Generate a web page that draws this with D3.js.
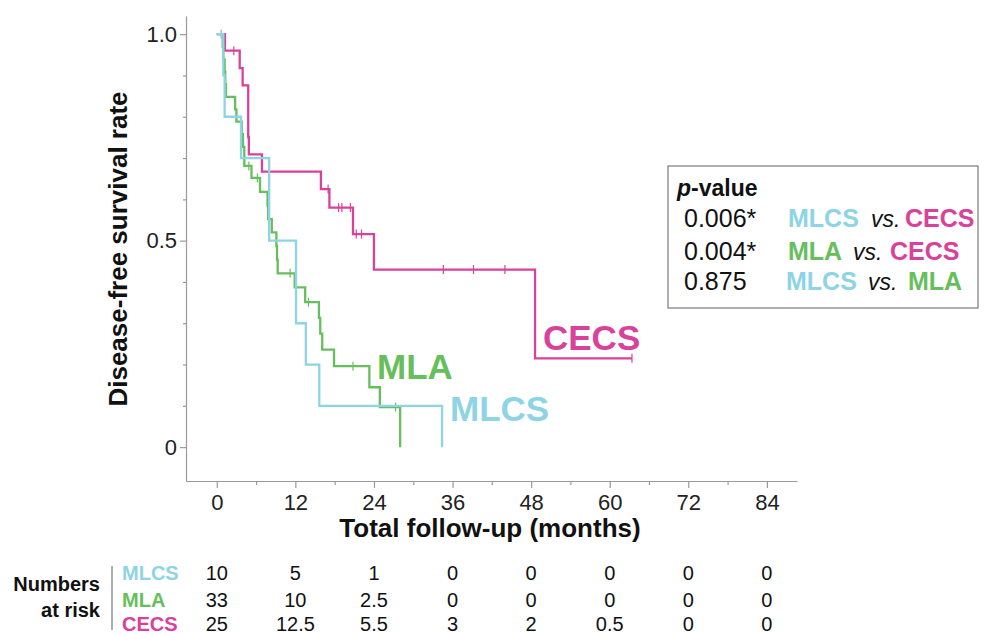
<!DOCTYPE html>
<html>
<head>
<meta charset="utf-8">
<script src="https://cdn.jsdelivr.net/npm/d3@7"></script>
<style>
  body { margin: 0; background: #fff; }
  svg { font-family: Arial, "Liberation Sans", Helvetica, sans-serif; }
  .axis path, .axis line { stroke: #9a9a9a; stroke-width: 1.2; }
</style>
</head>
<body>
<svg id="chart" width="984" height="634"></svg>
<script>
// ---- data ----
var groups = ["MLCS", "MLA", "CECS"];
var colors = { MLCS: "#8dd4e4", MLA: "#66bf5c", CECS: "#d8429a" };

// [month, survival after the drop]
var mlcsSteps = [[0, 1], [1.0, 0.9], [1.2, 0.8], [3.7, 0.7], [8.0, 0.5], [12.1, 0.3], [13.6, 0.2], [15.65, 0.1], [34.4, 0]];
var mlcsCensor = [[0.7, 1]];

var mlaSteps = [[0, 1], [0.9, 0.97], [1.0, 0.939], [1.2, 0.909], [1.3, 0.879], [1.4, 0.848], [2.8, 0.818], [3.0, 0.788],
  [3.8, 0.758], [4.0, 0.727], [4.2, 0.681], [5.3, 0.652], [6.6, 0.618], [7.75, 0.585], [7.85, 0.552], [8.4, 0.52],
  [9.1, 0.487], [9.2, 0.454], [9.3, 0.421], [11.9, 0.387], [13.5, 0.351], [15.6, 0.313], [15.8, 0.275], [16.1, 0.236],
  [17.9, 0.196], [23.3, 0.145], [24.9, 0.097], [28.0, 0]];
var mlaCensor = [[4.9, 0.681], [6.2, 0.652], [11.2, 0.421], [14.0, 0.351], [20.8, 0.196], [27.3, 0.097]];

var cecsSteps = [[0, 1], [1.25, 0.96], [3.5, 0.918], [3.95, 0.876], [4.8, 0.751], [4.9, 0.709], [6.9, 0.667], [15.9, 0.625],
  [17.2, 0.58], [20.8, 0.516], [24.0, 0.43], [48.6, 0.215], [63.4, 0.215]];
var cecsCensor = [[0.7, 1], [2.6, 0.96], [17.0, 0.625], [18.6, 0.58], [19.1, 0.58], [20.4, 0.58], [21.3, 0.516], [22.1, 0.516],
  [34.6, 0.43], [39.2, 0.43], [44.0, 0.43], [63.4, 0.215]];

var xTicks = [0, 12, 24, 36, 48, 60, 72, 84];
var xMinorTicks = [6, 18, 30, 42, 54, 66, 78];
var yTicks = [0, 0.5, 1];
var yMinorTicks = [0.1, 0.2, 0.3, 0.4, 0.6, 0.7, 0.8, 0.9];

var riskMLCS = ["10", "5", "1", "0", "0", "0", "0", "0"];
var riskMLA = ["33", "10", "2.5", "0", "0", "0", "0", "0"];
var riskCECS = ["25", "12.5", "5.5", "3", "2", "0.5", "0", "0"];

var pValues = ["0.006*", "0.004*", "0.875"];
var pairs = [["MLCS", "CECS"], ["MLA", "CECS"], ["MLCS", "MLA"]];

// ---- chart ----
var tickFont = "'Liberation Sans Narrow', 'Arial Narrow', Arial, 'Liberation Sans', sans-serif";
var svg = d3.select("#chart");

var x = d3.scaleLinear().domain([-4.7, 88.6]).range([186, 797]);
var y = d3.scaleLinear().domain([-0.082, 1.044]).range([481, 16]);

// axes
var xAxis = d3.axisBottom(x).tickValues(xTicks).tickSize(7).tickSizeOuter(0).tickPadding(6);
svg.append("g").attr("class", "x axis").attr("transform", "translate(0,481)").call(xAxis);
svg.append("g").attr("class", "x axis minor").attr("transform", "translate(0,481)")
  .call(d3.axisBottom(x).tickValues(xMinorTicks).tickSize(4).tickFormat(""))
  .select(".domain").remove();

var yAxis = d3.axisLeft(y).tickValues(yTicks).tickSize(6).tickSizeOuter(0).tickPadding(3)
  .tickFormat(function (d) { return d === 0 ? "0" : d3.format(".1f")(d); });
svg.append("g").attr("class", "y axis").attr("transform", "translate(186,0)").call(yAxis);
svg.append("g").attr("class", "y axis minor").attr("transform", "translate(186,0)")
  .call(d3.axisLeft(y).tickValues(yMinorTicks).tickSize(3).tickFormat(""))
  .select(".domain").remove();

svg.selectAll(".axis").attr("font-family", tickFont).attr("font-size", 22);
svg.selectAll(".axis text").attr("fill", "#222");

// axis titles
svg.append("text").attr("transform", "translate(127,249) rotate(-90)")
  .attr("text-anchor", "middle").attr("font-size", "26px").attr("font-weight", "bold").attr("fill", "#111")
  .text("Disease-free survival rate");
svg.append("text").attr("x", 490).attr("y", 537)
  .attr("text-anchor", "middle").attr("font-size", "26px").attr("font-weight", "bold").attr("fill", "#111")
  .text("Total follow-up (months)");

// curves
var line = d3.line().x(function (d) { return x(d[0]); }).y(function (d) { return y(d[1]); }).curve(d3.curveStepAfter);

var series = [
  { name: "CECS", steps: cecsSteps, censor: cecsCensor },
  { name: "MLA", steps: mlaSteps, censor: mlaCensor },
  { name: "MLCS", steps: mlcsSteps, censor: mlcsCensor }
];

series.forEach(function (s) {
  svg.append("path").datum(s.steps).attr("d", line)
    .attr("fill", "none").attr("stroke", colors[s.name]).attr("stroke-width", 2.3);
  svg.append("g").selectAll("line").data(s.censor).enter().append("line")
    .attr("x1", function (d) { return x(d[0]); }).attr("x2", function (d) { return x(d[0]); })
    .attr("y1", function (d) { return y(d[1]) - 4.5; }).attr("y2", function (d) { return y(d[1]) + 4.5; })
    .attr("stroke", colors[s.name]).attr("stroke-width", 1.2);
});

// curve labels
var curveLabels = [
  { name: "CECS", x: 543, y: 349.5 },
  { name: "MLA", x: 377, y: 379 },
  { name: "MLCS", x: 450, y: 421 }
];
curveLabels.forEach(function (l) {
  svg.append("text").attr("x", l.x).attr("y", l.y).attr("font-size", "35px").attr("font-weight", "bold")
    .attr("fill", colors[l.name]).text(l.name);
});

// p-value box
svg.append("rect").attr("x", 668).attr("y", 166).attr("width", 310).attr("height", 142)
  .attr("fill", "#fff").attr("stroke", "#7a7a7a").attr("stroke-width", 1.2);
var head = svg.append("text").attr("x", 677).attr("y", 196).attr("font-size", "23px").attr("font-weight", "bold").attr("fill", "#111");
head.append("tspan").attr("font-style", "italic").text("p");
head.append("tspan").text("-value");

var rowY = [226.7, 259.5, 290];
var rowX = [[788, 871, 905], [788, 853, 890], [786, 868, 908]];
pValues.forEach(function (p, i) {
  svg.append("text").attr("x", 684).attr("y", rowY[i]).attr("font-size", "25px").attr("fill", "#111").text(p);
  svg.append("text").attr("x", rowX[i][0]).attr("y", rowY[i]).attr("font-size", "25px").attr("font-weight", "bold")
    .attr("fill", colors[pairs[i][0]]).text(pairs[i][0]);
  svg.append("text").attr("x", rowX[i][1]).attr("y", rowY[i]).attr("font-size", "23px").attr("font-style", "italic")
    .attr("fill", "#111").text("vs.");
  svg.append("text").attr("x", rowX[i][2]).attr("y", rowY[i]).attr("font-size", "25px").attr("font-weight", "bold")
    .attr("fill", colors[pairs[i][1]]).text(pairs[i][1]);
});

// numbers at risk
svg.append("text").attr("x", 100).attr("y", 591).attr("text-anchor", "end").attr("font-size", "20px")
  .attr("font-weight", "bold").attr("fill", "#111").text("Numbers");
svg.append("text").attr("x", 100).attr("y", 617).attr("text-anchor", "end").attr("font-size", "20px")
  .attr("font-weight", "bold").attr("fill", "#111").text("at risk");
svg.append("line").attr("x1", 112).attr("x2", 112).attr("y1", 566).attr("y2", 630)
  .attr("stroke", "#777").attr("stroke-width", 1.2);

var riskRows = [riskMLCS, riskMLA, riskCECS];
var riskY = [580, 606.5, 631];
groups.forEach(function (g, i) {
  svg.append("text").attr("x", 122).attr("y", riskY[i]).attr("font-size", "20px").attr("font-weight", "bold")
    .attr("fill", colors[g]).text(g);
  svg.append("g").selectAll("text").data(riskRows[i]).enter().append("text")
    .attr("x", function (d, j) { return x(xTicks[j]); }).attr("y", riskY[i])
    .attr("text-anchor", "middle").attr("font-size", "20px").attr("fill", "#111")
    .text(function (d) { return d; });
});
</script>
</body>
</html>
